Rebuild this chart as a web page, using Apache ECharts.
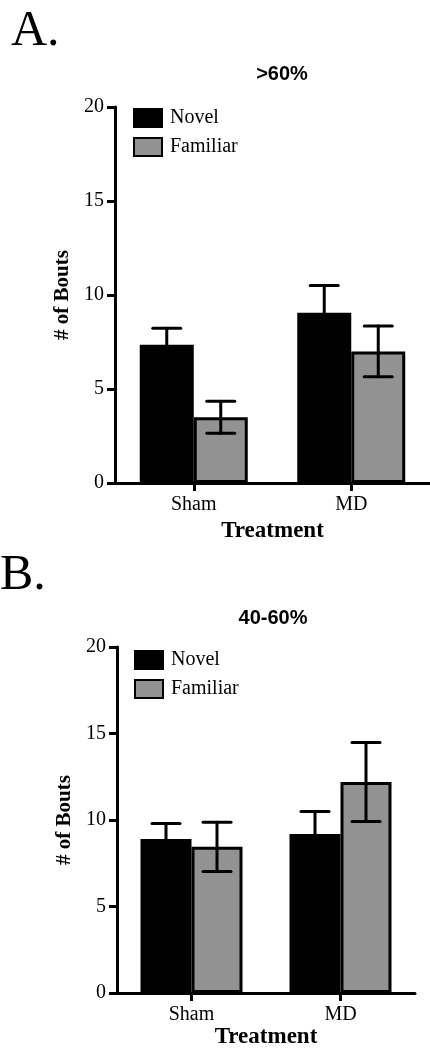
<!DOCTYPE html>
<html>
<head>
<meta charset="utf-8">
<script src="https://cdn.jsdelivr.net/npm/echarts@6/dist/echarts.min.js"></script>
<style>
  html, body { margin: 0; padding: 0; background: #fff; }
  #main { width: 430px; height: 1050px; }
</style>
</head>
<body>
<div id="main"></div>
<script>
// data
var treatments = ['Sham', 'MD'];
var yTicks = [0, 5, 10, 15, 20];

// panel A: >60%
var novelA = [7.35, 9.05];
var novelErrA = [0.88, 1.45];
var familiarA = [3.5, 7.0];
var familiarErrA = [0.85, 1.35];

// panel B: 40-60%
var novelB = [8.9, 9.2];
var novelErrB = [0.9, 1.3];
var familiarB = [8.45, 12.2];
var familiarErrB = [1.42, 2.28];

var serif = 'Liberation Serif';
var sans = 'Liberation Sans';
var gray = '#929292';

var chart = echarts.init(document.getElementById('main'));

// error bar drawer, offset in px from category center
function errSeries(gridIdx, vals, errs, offset) {
  var data = vals.map(function (v, i) { return [i, v, errs[i]]; });
  return {
    type: 'custom',
    xAxisIndex: gridIdx,
    yAxisIndex: gridIdx,
    z: 10,
    silent: true,
    data: data,
    renderItem: function (params, api) {
      var c = api.value(0), v = api.value(1), e = api.value(2);
      var top = api.coord([c, v + e]);
      var bot = api.coord([c, v - e]);
      var x = top[0] + offset;
      var hw = 14;
      var st = { stroke: '#000', lineWidth: 3, lineCap: 'round' };
      return {
        type: 'group',
        children: [
          { type: 'line', shape: { x1: x, y1: top[1], x2: x, y2: bot[1] }, style: st },
          { type: 'line', shape: { x1: x - hw, y1: top[1], x2: x + hw, y2: top[1] }, style: st },
          { type: 'line', shape: { x1: x - hw, y1: bot[1], x2: x + hw, y2: bot[1] }, style: st }
        ]
      };
    }
  };
}

function yAxisOpt(gridIdx) {
  return {
    type: 'value',
    gridIndex: gridIdx,
    min: 0, max: 20, interval: 5,
    name: '# of Bouts',
    nameLocation: 'middle',
    nameGap: 42,
    nameRotate: 90,
    nameTextStyle: { fontFamily: serif, fontWeight: 'bold', fontSize: 21, color: '#000' },
    axisLine: { show: true, lineStyle: { color: '#000', width: 3 } },
    axisTick: { show: true, length: 8, lineStyle: { color: '#000', width: 3 } },
    axisLabel: { fontFamily: serif, fontSize: 20, color: '#000', margin: 11 },
    splitLine: { show: false }
  };
}

function xAxisOpt(gridIdx, nameGap) {
  return {
    type: 'category',
    gridIndex: gridIdx,
    data: treatments,
    name: 'Treatment',
    nameLocation: 'middle',
    nameGap: nameGap,
    nameTextStyle: { fontFamily: serif, fontWeight: 'bold', fontSize: 23, color: '#000' },
    axisLine: { show: true, lineStyle: { color: '#000', width: 3 } },
    axisTick: { show: true, alignWithLabel: true, length: 8, lineStyle: { color: '#000', width: 3 } },
    axisLabel: { fontFamily: serif, fontSize: 20, color: '#000', margin: 12 }
  };
}

function barSeries(name, gridIdx, vals, color, bw) {
  return {
    name: name,
    type: 'bar',
    xAxisIndex: gridIdx,
    yAxisIndex: gridIdx,
    data: vals,
    barWidth: bw,
    barGap: '0%',
    itemStyle: { color: color, borderColor: '#000', borderWidth: 3 }
  };
}

var legendBase = {
  orient: 'vertical',
  icon: 'rect',
  itemWidth: 28,
  itemHeight: 18,
  itemGap: 9,
  textStyle: { fontFamily: serif, fontSize: 20, color: '#000', padding: [0, 0, 0, 3] },
  data: ['Novel', 'Familiar']
};

var option = {
  backgroundColor: '#fff',
  animation: false,
  title: [
    { text: '>60%', left: 277, top: 59, textAlign: 'center',
      textStyle: { fontFamily: sans, fontWeight: 'bold', fontSize: 20, color: '#000' } },
    { text: '40-60%', left: 268, top: 603, textAlign: 'center',
      textStyle: { fontFamily: sans, fontWeight: 'bold', fontSize: 20, color: '#000' } }
  ],
  graphic: [
    { type: 'text', left: 11, top: 7, style: { text: 'A.', fontFamily: serif, fontSize: 50, fill: '#000' } },
    { type: 'text', left: 0, top: 551, style: { text: 'B.', fontFamily: serif, fontSize: 50, fill: '#000' } }
  ],
  legend: [
    Object.assign({}, legendBase, { left: 128, top: 103 }),
    Object.assign({}, legendBase, { left: 129, top: 645 })
  ],
  grid: [
    { left: 115, top: 107, width: 322, height: 376 },
    { left: 117, top: 647, width: 298, height: 354 }
  ],
  xAxis: [xAxisOpt(0, 37), xAxisOpt(1, 30)],
  yAxis: [yAxisOpt(0), yAxisOpt(1)],
  series: [
    barSeries('Novel', 0, novelA, '#000', 54),
    barSeries('Familiar', 0, familiarA, gray, 54),
    barSeries('Novel', 1, novelB, '#000', 51),
    barSeries('Familiar', 1, familiarB, gray, 51),
    errSeries(0, novelA, novelErrA, -27),
    errSeries(0, familiarA, familiarErrA, 27),
    errSeries(1, novelB, novelErrB, -25.5),
    errSeries(1, familiarB, familiarErrB, 25.5)
  ]
};

chart.setOption(option);
</script>
</body>
</html>
